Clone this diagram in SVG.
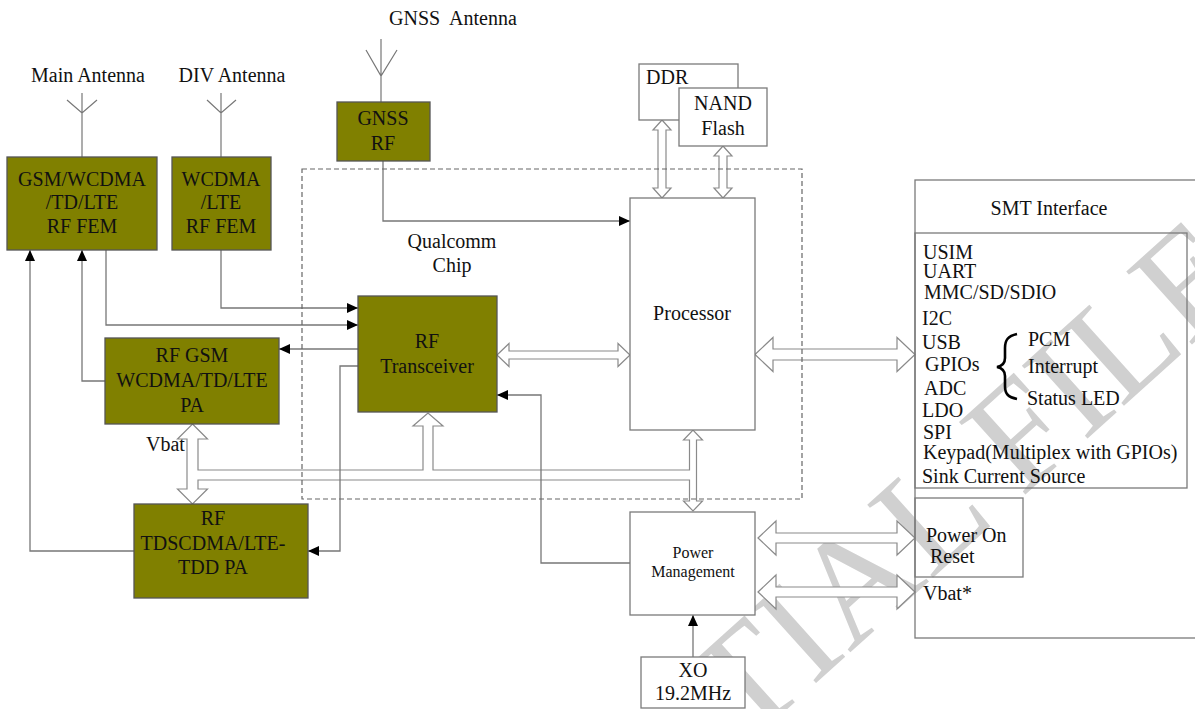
<svg xmlns="http://www.w3.org/2000/svg" width="1195" height="709" viewBox="0 0 1195 709">
<defs>
<style>
.olive{fill:#808000;stroke:#555;stroke-width:1.3}
.wbox{fill:#fff;stroke:#7a7a7a;stroke-width:1.3}
.obox{fill:none;stroke:#7a7a7a;stroke-width:1.3}
.t{font-family:"Liberation Serif","Times New Roman",serif;font-size:20px;fill:#111}
.c{text-anchor:middle}
.conn{fill:none;stroke:#777;stroke-width:1.3}
.ant{fill:none;stroke:#777;stroke-width:1.2}
.hollow{fill:#fff;stroke:#8a8a8a;stroke-width:1.2}
.dash{fill:none;stroke:#666;stroke-width:1.2;stroke-dasharray:5 3}
.wm{font-family:"Liberation Serif","Times New Roman",serif;font-size:150px;fill:#d0d0d0}
</style>
<marker id="ah" markerUnits="userSpaceOnUse" markerWidth="11" markerHeight="10" viewBox="0 0 11 10" refX="11" refY="5" orient="auto">
<path d="M0,0 L11,5 L0,10 z" fill="#000"/>
</marker>
</defs>
<rect width="1195" height="709" fill="#fff"/>

<g id="watermark">
<text class="wm" transform="translate(744,748) rotate(-42)">TIAL FILE</text>
</g>

<text class="t c" x="88" y="82">Main Antenna</text>
<text class="t c" x="232" y="82">DIV Antenna</text>
<text class="t c" x="453" y="25" xml:space="preserve">GNSS  Antenna</text>
<text class="t" x="146" y="451">Vbat</text>

<g id="hollow-arrows">
<path class="hollow" d="M192.5,424 L207.5,439 L198,439 L198,470 L423,470 L423,426 L413,426 L428,413 L443,426 L433,426 L433,470 L689.5,470 L689.5,440 L683.5,440 L693,430 L702.5,440 L696.5,440 L696.5,501 L702.5,501 L693,511 L683.5,501 L689.5,501 L689.5,480 L198,480 L198,489 L207.5,489 L192.5,504 L177.5,489 L187,489 L187,439 L177.5,439 Z"/>
<polygon class="hollow" points="497,355 509,343.5 509,351 618,351 618,343.5 630,355 618,366.5 618,359 509,359 509,366.5"/>
<polygon class="hollow" points="755,354.5 773,337.5 773,349 897,349 897,337.5 915,354.5 897,371.5 897,360 773,360 773,371.5"/>
<polygon class="hollow" points="758,538 776,521 776,533 897,533 897,521 915,538 897,555 897,543 776,543 776,555"/>
<polygon class="hollow" points="758,592 776,575 776,587 897,587 897,575 915,592 897,609 897,597 776,597 776,609"/>
<polygon class="hollow" points="662,120 671,130 666,130 666,188 671,188 662,198 653,188 658,188 658,130 653,130"/>
<polygon class="hollow" points="723,146 732,156 727,156 727,188 732,188 723,198 714,188 719,188 719,156 714,156"/>
</g>

<g id="connectors">
<path class="ant" d="M82,93 V157 M67,100 L82,113 L97,100"/>
<path class="ant" d="M221,93 V157 M207,100 L221,113 L236,100"/>
<path class="ant" d="M381,39 V102 M366,50 L381,76 L397,50"/>
<polyline class="conn" points="105,381 82,381 82,250" marker-end="url(#ah)"/>
<polyline class="conn" points="134,551 30,551 30,250" marker-end="url(#ah)"/>
<polyline class="conn" points="106,250 106,325 358,325" marker-end="url(#ah)"/>
<polyline class="conn" points="221,250 221,308 358,308" marker-end="url(#ah)"/>
<polyline class="conn" points="358,349 279,349" marker-end="url(#ah)"/>
<polyline class="conn" points="358,366 340,366 340,551 308,551" marker-end="url(#ah)"/>
<polyline class="conn" points="383,161 383,221 630,221" marker-end="url(#ah)"/>
<polyline class="conn" points="630,563 541,563 541,395 497,395" marker-end="url(#ah)"/>
<polyline class="conn" points="693,657 693,615" marker-end="url(#ah)"/>
</g>

<g id="qualcomm-chip">
<rect class="dash" x="302" y="169" width="500" height="330"/>
<text class="t c" x="452" y="248">Qualcomm</text>
<text class="t c" x="452" y="272">Chip</text>
</g>

<g id="main-fem">
<rect class="olive" x="7" y="157" width="150" height="93"/>
<text class="t c" x="82" y="186">GSM/WCDMA</text>
<text class="t c" x="82" y="209">/TD/LTE</text>
<text class="t c" x="82" y="233">RF FEM</text>
</g>

<g id="div-fem">
<rect class="olive" x="172" y="157" width="99" height="93"/>
<text class="t c" x="221" y="186">WCDMA</text>
<text class="t c" x="221" y="209">/LTE</text>
<text class="t c" x="221" y="233">RF FEM</text>
</g>

<g id="gnss-rf">
<rect class="olive" x="337" y="102" width="93" height="59"/>
<text class="t c" x="383" y="125">GNSS</text>
<text class="t c" x="383" y="150">RF</text>
</g>

<g id="gsm-pa">
<rect class="olive" x="105" y="338" width="174" height="86"/>
<text class="t c" x="192" y="362">RF GSM</text>
<text class="t c" x="192" y="387">WCDMA/TD/LTE</text>
<text class="t c" x="192" y="412">PA</text>
</g>

<g id="tdd-pa">
<rect class="olive" x="134" y="504" width="174" height="94"/>
<text class="t c" x="213" y="525">RF</text>
<text class="t c" x="213" y="550">TDSCDMA/LTE-</text>
<text class="t c" x="213" y="574">TDD PA</text>
</g>

<g id="rf-transceiver">
<rect class="olive" x="358" y="296" width="139" height="116"/>
<text class="t c" x="427" y="348">RF</text>
<text class="t c" x="427" y="373">Transceiver</text>
</g>

<g id="ddr">
<rect class="wbox" x="639" y="64" width="99" height="56"/>
<text class="t" x="646" y="84">DDR</text>
</g>

<g id="nand">
<rect class="wbox" x="679" y="88" width="88" height="58"/>
<text class="t c" x="723" y="110">NAND</text>
<text class="t c" x="723" y="135">Flash</text>
</g>

<g id="processor">
<rect class="wbox" x="630" y="198" width="125" height="232"/>
<text class="t c" x="692" y="320">Processor</text>
</g>

<g id="power-management">
<rect class="wbox" x="630" y="512" width="125" height="103"/>
<text class="t c" x="693" y="558" style="font-size:16px">Power</text>
<text class="t c" x="693" y="577" style="font-size:16px">Management</text>
</g>

<g id="xo">
<rect class="wbox" x="641" y="657" width="104" height="51"/>
<text class="t c" x="693" y="677">XO</text>
<text class="t c" x="693" y="700">19.2MHz</text>
</g>

<g id="smt-interface">
<rect class="obox" x="915" y="180" width="290" height="458"/>
<text class="t c" x="1049" y="215">SMT Interface</text>
<rect class="obox" x="915" y="233" width="272" height="255"/>
<text class="t" x="923" y="259">USIM</text>
<text class="t" x="923" y="278">UART</text>
<text class="t" x="924" y="299">MMC/SD/SDIO</text>
<text class="t" x="922" y="325">I2C</text>
<text class="t" x="922" y="349">USB</text>
<text class="t" x="925" y="371">GPIOs</text>
<text class="t" x="924" y="395">ADC</text>
<text class="t" x="922" y="417">LDO</text>
<text class="t" x="923" y="439">SPI</text>
<text class="t" x="923" y="459">Keypad(Multiplex with GPIOs)</text>
<text class="t" x="922" y="483">Sink Current Source</text>
<path d="M1017,334 C1008,336 1005,340 1005,348 L1005,358 C1005,363 1002,366 997,367 C1002,368 1005,371 1005,376 L1005,386 C1005,394 1008,397 1017,399" fill="none" stroke="#000" stroke-width="2.6"/>
<text class="t" x="1028" y="346">PCM</text>
<text class="t" x="1028" y="373">Interrupt</text>
<text class="t" x="1027" y="405">Status LED</text>
</g>

<g id="power-on-reset">
<rect class="obox" x="915" y="498" width="108" height="79"/>
<text class="t" x="926" y="542">Power On</text>
<text class="t" x="930" y="563">Reset</text>
</g>

<g id="vbat-star">
<text class="t" x="923" y="600">Vbat*</text>
</g>
</svg>
